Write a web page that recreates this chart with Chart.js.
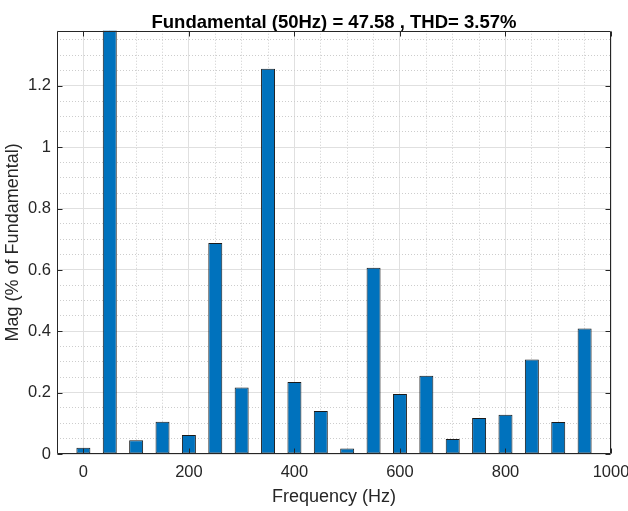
<!DOCTYPE html>
<html>
<head>
<meta charset="utf-8">
<script src="https://cdn.jsdelivr.net/npm/chart.js@4.4.1/dist/chart.umd.min.js"></script>
<style>
  body { margin: 0; background: #fff; }
</style>
</head>
<body>
<canvas id="canvas" width="628" height="511"></canvas>
<script>
// harmonic spectrum, magnitude in % of fundamental (50Hz bar is 100, clipped by the axis)
var freqs = [0, 50, 100, 150, 200, 250, 300, 350, 400, 450, 500, 550, 600, 650, 700, 750, 800, 850, 900, 950];
var mags = [0.02, 100, 0.045, 0.105, 0.062, 0.688, 0.217, 1.256, 0.235, 0.14, 0.018, 0.607, 0.196, 0.255, 0.049, 0.117, 0.128, 0.308, 0.104, 0.409];
var xMajor = [0, 200, 400, 600, 800, 1000];
var yMajor = [0, 0.2, 0.4, 0.6, 0.8, 1, 1.2];
var xRange = [-50, 1000];
var yRange = [0, 1.38];
var xMinorStep = 50;
var yMinorStep = 0.05;

var FONT = "'Liberation Sans', Arial, Helvetica, sans-serif";
var TXT = '#262626';

function isMajor(list, v) {
  return list.some(function (m) { return Math.abs(m - v) < 1e-6; });
}

function stepTicks(min, max, step) {
  var out = [];
  for (var i = 0; min + i * step <= max + 1e-9; i++) {
    out.push({ value: Math.round((min + i * step) * 1000) / 1000 });
  }
  return out;
}

function gridOpts(list) {
  return {
    offset: false,
    drawTicks: false,
    lineWidth: 1,
    color: function (c) { return c.tick && isMajor(list, c.tick.value) ? '#e0e0e0' : '#cdcdcd'; }
  };
}

function borderOpts(list) {
  return {
    display: false,
    dash: function (c) { return c.tick && !isMajor(list, c.tick.value) ? [1, 2] : []; }
  };
}

// matlab style box with inward ticks
var boxPlugin = {
  id: 'box',
  afterDatasetsDraw: function (chart) {
    var a = chart.chartArea, ctx = chart.ctx;
    var xs = chart.scales.x, ys = chart.scales.y;
    var L = Math.round(a.left) + 0.5, R = Math.round(a.right) - 0.5;
    var T = Math.round(a.top) + 0.5, B = Math.round(a.bottom) - 0.5;
    ctx.save();
    ctx.strokeStyle = TXT;
    ctx.lineWidth = 1;
    ctx.beginPath();
    xMajor.forEach(function (v) {
      var p = Math.round(xs.getPixelForValue(v)) + 0.5;
      ctx.moveTo(p, B); ctx.lineTo(p, B - 5);
      ctx.moveTo(p, T); ctx.lineTo(p, T + 5);
    });
    yMajor.forEach(function (v) {
      var p = Math.round(ys.getPixelForValue(v)) + 0.5;
      ctx.moveTo(L, p); ctx.lineTo(L + 5, p);
      ctx.moveTo(R, p); ctx.lineTo(R - 5, p);
    });
    ctx.rect(L, T, R - L, B - T);
    ctx.stroke();
    ctx.restore();
  }
};

window.onload = function () {
  var ctx = document.getElementById('canvas').getContext('2d');
  window.myBar = new Chart(ctx, {
    type: 'bar',
    data: {
      datasets: [{
        data: freqs.map(function (f, i) { return { x: f, y: mags[i] }; }),
        backgroundColor: 'rgb(0,114,189)',
        borderColor: '#1a1a1a',
        borderWidth: 1,
        borderSkipped: false,
        categoryPercentage: 1,
        barPercentage: 0.53,
        clip: 0
      }]
    },
    options: {
      responsive: false,
      animation: false,
      layout: { padding: { left: 0, right: 17, top: 0, bottom: 0 } },
      plugins: {
        legend: { display: false },
        tooltip: { enabled: false },
        title: {
          display: true,
          text: 'Fundamental (50Hz) = 47.58 , THD= 3.57%',
          fullSize: false,
          color: '#000',
          font: { family: FONT, size: 18.5, weight: 'bold', lineHeight: 0.85 },
          padding: { top: 15, bottom: 0 }
        }
      },
      scales: {
        x: {
          type: 'linear',
          min: xRange[0],
          max: xRange[1],
          offset: false,
          afterBuildTicks: function (s) { s.ticks = stepTicks(xRange[0], xRange[1], xMinorStep); },
          afterFit: function (s) { s.height = 57; s.paddingLeft = 0; s.paddingRight = 0; },
          grid: gridOpts(xMajor),
          border: borderOpts(xMajor),
          ticks: {
            autoSkip: false,
            maxRotation: 0,
            padding: 9,
            color: TXT,
            font: { family: FONT, size: 16.5 },
            callback: function (v) { return isMajor(xMajor, v) ? String(v) : ''; }
          },
          title: {
            display: true,
            text: 'Frequency (Hz)',
            color: TXT,
            font: { family: FONT, size: 18 },
            padding: { top: 0, bottom: 3.5 }
          }
        },
        y: {
          min: yRange[0],
          max: yRange[1],
          afterBuildTicks: function (s) { s.ticks = stepTicks(yRange[0], yRange[1], yMinorStep); },
          afterFit: function (s) { s.width = 57; s.paddingTop = 0; s.paddingBottom = 0; },
          grid: gridOpts(yMajor),
          border: borderOpts(yMajor),
          ticks: {
            autoSkip: false,
            padding: 6,
            color: TXT,
            font: { family: FONT, size: 16.5 },
            callback: function (v) { return isMajor(yMajor, v) ? String(Math.round(v * 10) / 10) : ''; }
          },
          title: {
            display: true,
            text: 'Mag (% of Fundamental)',
            color: TXT,
            font: { family: FONT, size: 18 },
            padding: { top: 2, bottom: 0 }
          }
        }
      }
    },
    plugins: [boxPlugin]
  });
};
</script>
</body>
</html>
